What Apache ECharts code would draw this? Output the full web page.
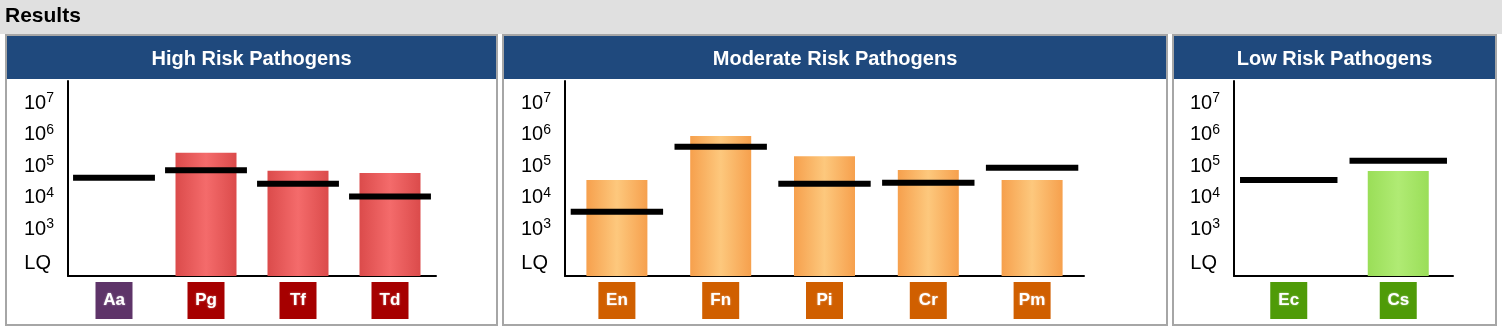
<!DOCTYPE html>
<html>
<head>
<meta charset="utf-8">
<title>Results</title>
<script src="https://cdn.jsdelivr.net/npm/echarts@6/dist/echarts.min.js"></script>
<style>
  html, body { margin: 0; padding: 0; background: #ffffff; }
  #chart { width: 1502px; height: 334px; }
</style>
</head>
<body>
<div id="chart"></div>
<script>
// Pathogen groups: measured load (bars) and threshold (black markers), in copies.
const highCats = ['Aa', 'Pg', 'Tf', 'Td'];
const highMeasured = [null, 270000, 72000, 61000];
const highThreshold = [43000, 75000, 28000, 11000];
const highBadges = ['#5e3469', '#a60000', '#a60000', '#a60000'];

const modCats = ['En', 'Fn', 'Pi', 'Cr', 'Pm'];
const modMeasured = [37000, 920000, 210000, 76000, 37000];
const modThreshold = [3600, 420000, 28000, 30000, 90000];
const modBadges = ['#d05f00', '#d05f00', '#d05f00', '#d05f00', '#d05f00'];

const lowCats = ['Ec', 'Cs'];
const lowMeasured = [null, 71000];
const lowThreshold = [37000, 150000];
const lowBadges = ['#4f9b08', '#4f9b08'];

const panelTitles = ['High Risk Pathogens', 'Moderate Risk Pathogens', 'Low Risk Pathogens'];

// Y axis ticks (copies) and their labels; "LQ" marks the limit of quantification.
const yTickValues = [1e2, 1e3, 1e4, 1e5, 1e6, 1e7];
const yTickLabels = ['LQ', '10^3', '10^4', '10^5', '10^6', '10^7'];

const FONT = 'Liberation Sans, Arial, Helvetica, sans-serif';

const barPalettes = [
  ['#db4b4b', '#f46b6b', '#db4b4b'],
  ['#f6a04d', '#fdc87d', '#f6a04d'],
  ['#9ade58', '#b0eb74', '#9ade58']
];

const groups = [
  { cats: highCats, measured: highMeasured, threshold: highThreshold, badges: highBadges,
    grid: { left: 68, top: 81, width: 368, height: 195 }, panel: { x: 5, w: 493 } },
  { cats: modCats, measured: modMeasured, threshold: modThreshold, badges: modBadges,
    grid: { left: 565, top: 81, width: 519, height: 195 }, panel: { x: 502, w: 666 } },
  { cats: lowCats, measured: lowMeasured, threshold: lowThreshold, badges: lowBadges,
    grid: { left: 1234, top: 81, width: 219, height: 195 }, panel: { x: 1172, w: 325 } }
];

// The value axis runs in log10 units.
const toLog = v => (v == null ? '-' : Math.log10(v));
const Y_MIN = 1.517;
const Y_MAX = 7.708;

function yLabel(value) {
  const idx = yTickValues.findIndex(t => Math.abs(Math.log10(t) - value) < 1e-6);
  if (idx < 0) return '';
  const txt = yTickLabels[idx];
  if (txt.indexOf('^') < 0) return '{lq|' + txt + '}';
  const parts = txt.split('^');
  return '{b|' + parts[0] + '}{s|' + parts[1] + '}';
}

const gradient = (stops) => new echarts.graphic.LinearGradient(0, 0, 1, 0, [
  { offset: 0, color: stops[0] },
  { offset: 0.5, color: stops[1] },
  { offset: 1, color: stops[2] }
]);

const grids = [], xAxes = [], yAxes = [], series = [], graphics = [];

// page header band
graphics.push({ type: 'rect', shape: { x: 0, y: 0, width: 1502, height: 34 }, style: { fill: '#e0e0e0' }, silent: true });
graphics.push({ type: 'text', x: 5, y: 16, style: { text: 'Results', font: 'bold 21px ' + FONT, fill: '#000', verticalAlign: 'middle' }, silent: true });

groups.forEach((g, gi) => {
  const p = g.panel;
  graphics.push({ type: 'rect', shape: { x: p.x, y: 34, width: p.w, height: 292 }, style: { fill: '#a6a6a6' }, silent: true });
  graphics.push({ type: 'rect', shape: { x: p.x + 2, y: 36, width: p.w - 4, height: 288 }, style: { fill: '#ffffff' }, silent: true });
  graphics.push({ type: 'rect', shape: { x: p.x + 2, y: 36, width: p.w - 4, height: 43 }, style: { fill: '#1f497d' }, silent: true });
  graphics.push({ type: 'text', x: p.x + p.w / 2, y: 59, style: {
    text: panelTitles[gi], font: 'bold 20px ' + FONT, fill: '#ffffff', align: 'center', verticalAlign: 'middle'
  }, silent: true });

  grids.push(Object.assign({ containLabel: false }, g.grid));

  const rich = {};
  g.badges.forEach((c, i) => {
    rich['k' + i] = {
      backgroundColor: c, color: '#ffffff', width: 37, height: 37, lineHeight: 37,
      align: 'center', fontSize: 17, fontWeight: 'bold', fontFamily: FONT,
      textShadowColor: 'rgba(255,255,255,0.55)', textShadowBlur: 2
    };
  });

  xAxes.push({
    type: 'category', gridIndex: gi, data: g.cats,
    axisLine: { onZero: false, lineStyle: { color: '#000', width: 2 } },
    axisTick: { show: false },
    axisLabel: {
      margin: 6, interval: 0,
      formatter: (val, idx) => '{k' + idx + '|' + val + '}',
      rich: rich
    },
    splitLine: { show: false }
  });

  yAxes.push({
    type: 'value', gridIndex: gi, min: Y_MIN, max: Y_MAX,
    axisLine: { show: true, lineStyle: { color: '#000', width: 2 } },
    axisTick: { show: false },
    splitLine: { show: false },
    axisLabel: {
      customValues: yTickValues.map(v => Math.log10(v)),
      margin: 14, color: '#000',
      formatter: yLabel,
      rich: {
        b: { fontSize: 20, lineHeight: 24, fontFamily: FONT, color: '#000' },
        s: { fontSize: 14, lineHeight: 14, verticalAlign: 'top', fontFamily: FONT, color: '#000' },
        lq: { fontSize: 20, lineHeight: 20, padding: [6, 3, 0, 0], fontFamily: FONT, color: '#000' }
      }
    }
  });

  series.push({
    type: 'bar', xAxisIndex: gi, yAxisIndex: gi,
    barWidth: 61, clip: true,
    itemStyle: { color: gradient(barPalettes[gi]) },
    data: g.measured.map(toLog),
    z: 2
  });

  series.push({
    type: 'custom', xAxisIndex: gi, yAxisIndex: gi, z: 5,
    encode: { x: 0, y: 1 },
    data: g.threshold.map((v, i) => [i, toLog(v)]),
    renderItem: (params, api) => {
      const c = api.coord([api.value(0), api.value(1)]);
      const w = api.size([1, 0])[0] * 0.89;
      return { type: 'rect', shape: { x: c[0] - w / 2, y: c[1] - 3, width: w, height: 6 }, style: { fill: '#000' } };
    }
  });
});

const chart = echarts.init(document.getElementById('chart'), null, { renderer: 'canvas' });
chart.setOption({
  animation: false,
  backgroundColor: '#ffffff',
  textStyle: { fontFamily: FONT },
  graphic: { elements: graphics },
  grid: grids,
  xAxis: xAxes,
  yAxis: yAxes,
  series: series
});
</script>
</body>
</html>
